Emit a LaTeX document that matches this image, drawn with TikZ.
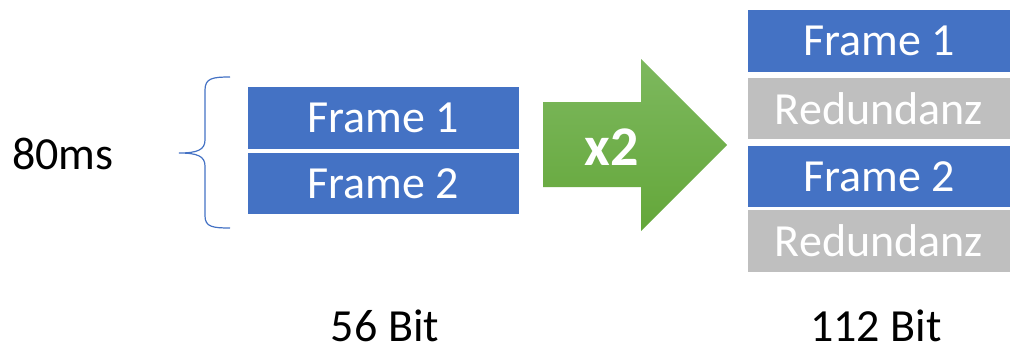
\documentclass[tikz,border=0pt]{standalone}
\usepackage{fontspec}
\setmainfont{Carlito}
\definecolor{frameblue}{HTML}{4472C4}
\definecolor{redgray}{HTML}{BFBFBF}
\definecolor{greentop}{HTML}{7DB85E}
\definecolor{greenbot}{HTML}{64A73A}
\tikzset{
  blk/.style={rectangle, inner sep=0pt, text=white, font=\fontsize{46}{54}\selectfont},
  frm/.style={blk, fill=frameblue},
  red/.style={blk, fill=redgray},
  lbl/.style={inner sep=0pt, text=black, font=\fontsize{46}{54}\selectfont},
}
\begin{document}
\begin{tikzpicture}[x=1pt,y=-1pt]
\useasboundingbox (0,0) rectangle (1010,349);

% input block: two frames
\node[frm, minimum width=271pt, minimum height=62pt] (f1) at (383.5,118) {Frame 1};
\node[frm, minimum width=271pt, minimum height=61pt] (f2) at (383.5,183.5) {Frame 2};

% curly brace spanning the input duration
\draw[frameblue, line width=1.2pt]
  (230,77) .. controls (213,77) and (205,78) .. (205,90)
  -- (205,140) .. controls (205,150) and (197,153) .. (179,153)
  .. controls (197,153) and (205,156) .. (205,166)
  -- (205,216) .. controls (205,227) and (213,228) .. (230,228);
\node[lbl] (dur) at (63,154) {80ms};

% block arrow with doubling factor
\shade[top color=greentop, bottom color=greenbot]
  (543,102) -- (641,102) -- (641,59) -- (727,145) -- (641,231) -- (641,187) -- (543,187) -- cycle;
\node[inner sep=0pt, text=white, font=\fontsize{56}{64}\selectfont\bfseries] (x2) at (612,147) {x2};

% output block: frames interleaved with redundancy
\node[frm, minimum width=262pt, minimum height=62pt] (o1) at (879,41) {Frame 1};
\node[red, minimum width=262pt, minimum height=61pt] (r1) at (879,108.5) {Redundanz};
\node[frm, minimum width=262pt, minimum height=61pt] (o2) at (879,176.5) {Frame 2};
\node[red, minimum width=262pt, minimum height=62pt] (r2) at (879,241) {Redundanz};

% sizes
\node[lbl] (in) at (385,326) {56 Bit};
\node[lbl] (out) at (876,326) {112 Bit};
\end{tikzpicture}
\end{document}
